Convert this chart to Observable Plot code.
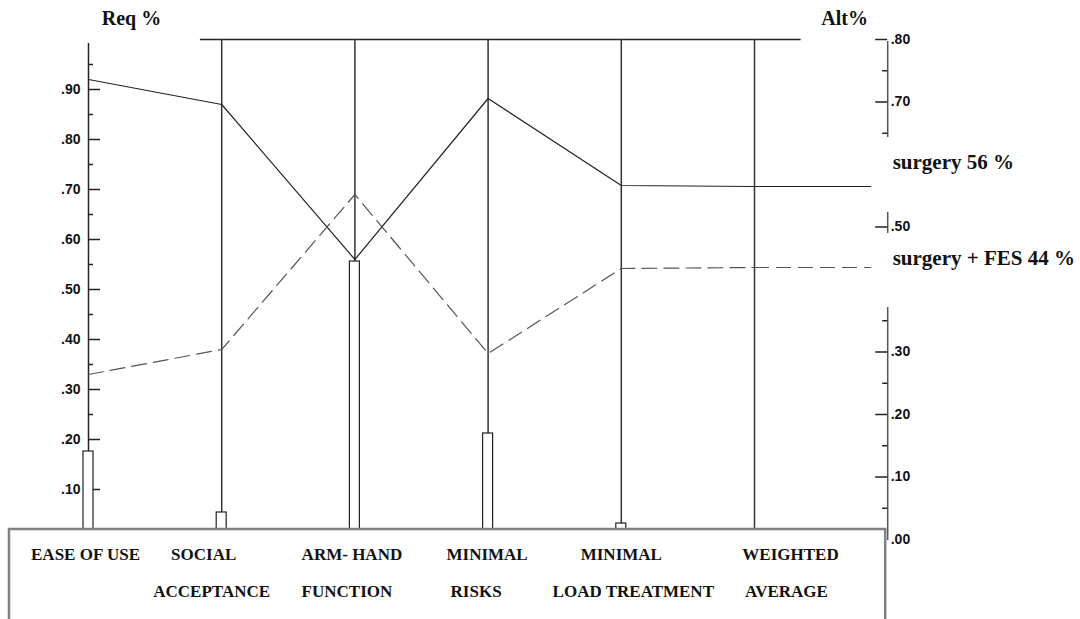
<!DOCTYPE html>
<html>
<head>
<meta charset="utf-8">
<script src="https://cdn.jsdelivr.net/npm/d3@7"></script>
<script src="https://cdn.jsdelivr.net/npm/@observablehq/plot@0.6"></script>
<style>
  body { margin: 0; background: #fff; }
  #chart svg { display: block; }
</style>
</head>
<body>
<div id="chart"></div>
<script>
// ---- data ----
const labelLine1 = ["EASE OF USE", "SOCIAL", "ARM- HAND", "MINIMAL", "MINIMAL", "WEIGHTED"];
const labelLine2 = ["", "ACCEPTANCE", "FUNCTION", "RISKS", "LOAD TREATMENT", "AVERAGE"];
const surgery    = [0.92, 0.87, 0.56, 0.882, 0.708, 0.706];
const surgeryFES = [0.33, 0.38, 0.69, 0.372, 0.542, 0.544];
const weights    = [0.176, 0.054, 0.556, 0.212, 0.032, 0];
const reqTicks   = [0.1, 0.2, 0.3, 0.4, 0.5, 0.6, 0.7, 0.8, 0.9];
const reqMinor   = [0.05, 0.15, 0.25, 0.35, 0.45, 0.55, 0.65, 0.75, 0.85, 0.95];
const altTicks   = [0.1, 0.2, 0.3, 0.4, 0.5, 0.6, 0.7, 0.8];
const altMinor   = [0.05, 0.15, 0.25, 0.35, 0.45, 0.55, 0.65, 0.75];
const altLabels  = [0, 0.1, 0.2, 0.3, 0.5, 0.7, 0.8];   // .40 and .60 sit under the series labels
const seriesLabels = ["surgery 56 %", "surgery + FES 44 %"];
const axisTitles = ["Req %", "Alt%"];

// ---- layout helpers ----
const xRange = [88, 754];
const px = 5 / (xRange[1] - xRange[0]);   // x-units per pixel
const altScale = 1 / 0.8;                 // right axis .80 aligns with left 1.00
const idx = d3.range(labelLine1.length);
const rightAxisAt = idx.length;           // right axis sits one step past the last category
const fmt = d => d3.format(".2f")(d).replace(/^0/, "");
const serif = "'Liberation Serif', 'Times New Roman', serif";
const sans = "'Liberation Sans', Arial, sans-serif";
const labelNudge1 = [-3, -18, -3, -1, 0, 36];
const labelNudge2 = [0, -10, -8, -12, 12, 32];
const seriesDy = [-24, -9];
const lastI = idx.length - 1;
const lineEnd = lastI + 0.88;
const idx2 = idx.filter(i => labelLine2[i] !== "");

const chart = Plot.plot({
  width: 1080,
  height: 619,
  margin: 0,
  x: { domain: [0, 5], range: xRange, axis: null },
  y: { domain: [0, 1], range: [539, 39], axis: null },
  style: { background: "white", overflow: "visible" },
  marks: [
    // top frame line
    Plot.ruleY([1], { x1: 0.84, x2: 5.35, stroke: "#222", strokeWidth: 1.5 }),
    // category verticals
    Plot.ruleX(idx.slice(1), { y1: 0, y2: 1, stroke: "#333", strokeWidth: 1.5 }),
    // left axis
    Plot.ruleX([0], { y1: 0, y2: 0.992, stroke: "#222", strokeWidth: 1.5 }),
    Plot.ruleY(reqTicks, { x1: 0, x2: 12 * px, stroke: "#222", strokeWidth: 1.5 }),
    Plot.ruleY(reqMinor, { x1: 0, x2: 5 * px, stroke: "#222", strokeWidth: 1.5 }),
    Plot.text(reqTicks, { x: 0, y: d => d, text: fmt, textAnchor: "end", dx: -8,
      fontFamily: sans, fontWeight: "bold", fontSize: 14, fill: "#111" }),
    // right axis
    Plot.ruleX([rightAxisAt], { y1: -0.002, y2: 0.8 * altScale - 0.004, stroke: "#555", strokeWidth: 1.5 }),
    Plot.ruleY(altTicks, { y: d => d * altScale, x1: rightAxisAt - 12 * px, x2: rightAxisAt, stroke: "#222", strokeWidth: 1.5 }),
    Plot.ruleY(altMinor, { y: d => d * altScale, x1: rightAxisAt - 5 * px, x2: rightAxisAt, stroke: "#222", strokeWidth: 1.5 }),
    Plot.text(altLabels, { x: rightAxisAt, y: d => d * altScale, text: fmt, textAnchor: "start", dx: 3,
      fontFamily: sans, fontWeight: "bold", fontSize: 14, fill: "#111" }),
    // series lines
    Plot.line(idx, { x: i => i, y: i => surgery[i], stroke: "#222", strokeWidth: 1.2 }),
    Plot.ruleY([surgery[lastI]], { x1: lastI, x2: lineEnd, stroke: "#222", strokeWidth: 1.2 }),
    Plot.line(idx, { x: i => i, y: i => surgeryFES[i], stroke: "#555", strokeWidth: 1.2, strokeDasharray: "15,7" }),
    Plot.ruleY([surgeryFES[lastI]], { x1: lastI, x2: lineEnd, stroke: "#555", strokeWidth: 1.2, strokeDasharray: "15,7" }),
    // weight bars
    Plot.rect(idx.filter(i => weights[i] > 0), { x1: i => i - 5 * px, x2: i => i + 5 * px, y1: 0, y2: i => weights[i],
      fill: "white", stroke: "#222", strokeWidth: 1.2 }),
    // label backgrounds masking the right axis
    Plot.rect([0], { x1: lineEnd + 0.01, x2: 7.6, y1: surgery[lastI] - 0.052, y2: surgery[lastI] + 0.098, fill: "white" }),
    Plot.rect([0], { x1: lineEnd + 0.01, x2: 7.6, y1: surgeryFES[lastI] - 0.08, y2: surgeryFES[lastI] + 0.068, fill: "white" }),
    // series labels
    Plot.text([0, 1], { x: rightAxisAt, y: i => (i === 0 ? surgery : surgeryFES)[lastI], text: i => seriesLabels[i],
      textAnchor: "start", dx: 5, fontFamily: serif, fontWeight: "bold", fontSize: 21, fill: "#111" }),
    // bottom label box
    Plot.rect([0], { x1: -79 * px, x2: rightAxisAt - 2 * px, y1: -0.3, y2: 0.02, fill: "white", stroke: "#808080", strokeWidth: 2.5 }),
    Plot.text(idx, { x: i => i, y: 0, text: i => labelLine1[i], dy: 15,
      fontFamily: serif, fontWeight: "bold", fontSize: 17, fill: "#111" }),
    Plot.text(idx2, { x: i => i, y: 0, text: i => labelLine2[i], dy: 52,
      fontFamily: serif, fontWeight: "bold", fontSize: 17, fill: "#111" }),
    // axis titles
    Plot.text([0], { x: 0, y: 1, text: () => axisTitles[0], dx: 43, dy: -21,
      fontFamily: serif, fontWeight: "bold", fontSize: 20, fill: "#111" }),
    Plot.text([0], { x: rightAxisAt, y: 1, text: () => axisTitles[1], dx: -43, dy: -21,
      fontFamily: serif, fontWeight: "bold", fontSize: 20, fill: "#111" })
  ]
});

// per-label nudges (text marks only take constant dx/dy)
const texts = chart.querySelectorAll("g[aria-label='text']");
// order: left ticks, right ticks, series labels, line1, line2, title1, title2
const nudge = (g, fn) => g.querySelectorAll("text").forEach((t, k) => {
  const [dx, dy] = fn(k);
  t.setAttribute("transform", (t.getAttribute("transform") || "") + ` translate(${dx},${dy})`);
});
nudge(texts[2], k => [0, seriesDy[k]]);
nudge(texts[3], k => [labelNudge1[k], 0]);
nudge(texts[4], k => [labelNudge2[idx2[k]], 0]);

document.getElementById("chart").append(chart);
</script>
</body>
</html>
